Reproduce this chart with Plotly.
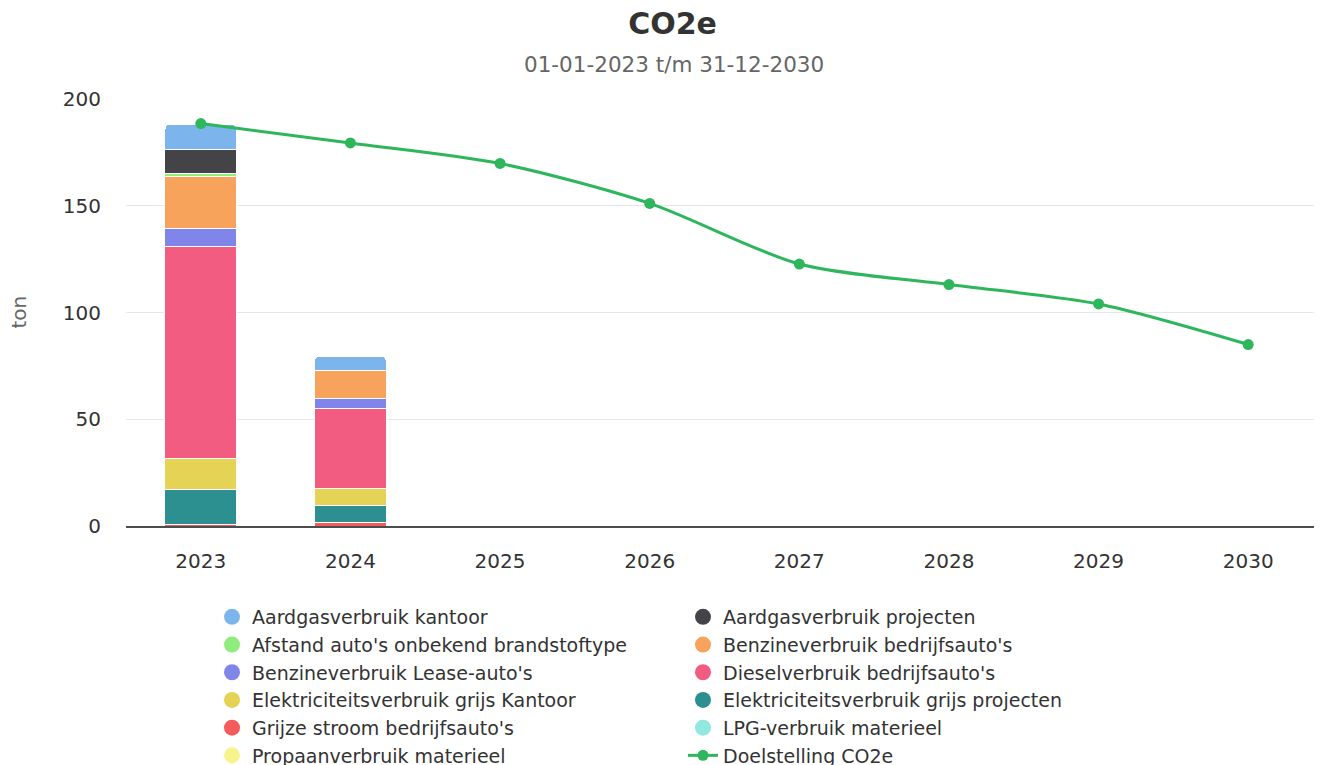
import plotly.graph_objects as go

years = ["2023", "2024", "2025", "2026", "2027", "2028", "2029", "2030"]

# legend order (top of stack first, as in the reference legend)
series_names = [
    "Aardgasverbruik kantoor",
    "Aardgasverbruik projecten",
    "Afstand auto's onbekend brandstoftype",
    "Benzineverbruik bedrijfsauto's",
    "Benzineverbruik Lease-auto's",
    "Dieselverbruik bedrijfsauto's",
    "Elektriciteitsverbruik grijs Kantoor",
    "Elektriciteitsverbruik grijs projecten",
    "Grijze stroom bedrijfsauto's",
    "LPG-verbruik materieel",
    "Propaanverbruik materieel",
]
series_colors = [
    "#7cb5ec", "#434348", "#90ed7d", "#f7a35c", "#8085e9", "#f15c80",
    "#e4d354", "#2b908f", "#f45b5b", "#91e8e1", "#f7f48c",
]

aardgas_kantoor = [12.0, 6.5, None, None, None, None, None, None]
aardgas_projecten = [11.3, None, None, None, None, None, None, None]
afstand_onbekend = [1.2, 0.3, None, None, None, None, None, None]
benzine_bedrijfsautos = [24.4, 13.2, None, None, None, None, None, None]
benzine_lease = [8.2, 4.4, None, None, None, None, None, None]
diesel_bedrijfsautos = [99.7, 37.5, None, None, None, None, None, None]
elek_grijs_kantoor = [14.3, 8.2, None, None, None, None, None, None]
elek_grijs_projecten = [16.6, 7.6, None, None, None, None, None, None]
grijze_stroom = [0.5, 1.8, None, None, None, None, None, None]
lpg_materieel = [None] * 8
propaan_materieel = [None] * 8

series_values = [
    aardgas_kantoor, aardgas_projecten, afstand_onbekend, benzine_bedrijfsautos,
    benzine_lease, diesel_bedrijfsautos, elek_grijs_kantoor, elek_grijs_projecten,
    grijze_stroom, lpg_materieel, propaan_materieel,
]

doelstelling = [188.5, 179.4, 169.8, 151.1, 122.7, 113.1, 104.0, 85.0]
line_color = "#2db65c"

W, H = 1340, 780
PL, PR, PT, PB = 118, 1315, 91, 518  # plot area in figure pixels
PW, PH = PR - PL, PB - PT

fig = go.Figure()

# bars: stacked bottom-up (reverse of legend order)
for name, color, vals in reversed(list(zip(series_names, series_colors, series_values))):
    fig.add_trace(go.Bar(
        x=years, y=vals, name=name, marker=dict(color=color, line=dict(color="white", width=1)),
        showlegend=False, hoverinfo="x+y+name",
    ))

# legend entries with round symbols
for name, color in zip(series_names, series_colors):
    fig.add_trace(go.Scatter(
        x=[None], y=[None], mode="markers", name=name,
        marker=dict(color=color, size=16, symbol="circle"), showlegend=True,
    ))

fig.add_trace(go.Scatter(
    x=years, y=doelstelling, name="Doelstelling CO2e", mode="lines+markers",
    line=dict(color=line_color, width=3, shape="spline", smoothing=0.8),
    marker=dict(color=line_color, size=11),
))

fig.update_layout(
    width=W, height=H,
    margin=dict(l=PL, r=W - PR, t=PT, b=H - PB, autoexpand=False),
    paper_bgcolor="white", plot_bgcolor="white",
    font=dict(family="DejaVu Sans", size=20, color="#333333"),
    barmode="stack", bargap=0.52, barcornerradius=5,
    title=dict(text="<b>CO2e</b>", x=664.5 / W, xref="container", xanchor="center",
               y=1 - 15 / H, yref="container", yanchor="middle",
               font=dict(size=30, color="#333333")),
    showlegend=True,
    legend=dict(orientation="h", x=(204 - PL) / PW, xanchor="left",
                y=(PB - 590) / PH, yanchor="top",
                entrywidth=426, entrywidthmode="pixels", traceorder="normal",
                font=dict(size=19, color="#333333"), itemclick=False),
    annotations=[
        dict(text="01-01-2023 t/m 31-12-2030", x=(665.5 - PL) / PW, xref="paper",
             xanchor="center", y=1 + (PT - 57) / PH, yref="paper", yanchor="middle",
             showarrow=False, font=dict(size=21.5, color="#666666")),
        dict(text="ton", x=(10 - PL) / PW, xref="paper", xanchor="center",
             y=0.5, yref="paper", yanchor="middle", textangle=-90, showarrow=False,
             font=dict(size=20, color="#666666")),
    ],
)

fig.update_xaxes(type="category", showline=True, linecolor="#4d4d4d", linewidth=1.5,
                 showgrid=False, ticks="", ticklabelstandoff=16, automargin=False,
                 tickfont=dict(size=20, color="#333333"))
fig.update_yaxes(range=[0, 200], tickvals=[0, 50, 100, 150, 200], showgrid=True,
                 gridcolor="#e6e6e6", gridwidth=1, zeroline=False, showline=False,
                 ticks="", ticklabelstandoff=24, automargin=False,
                 tickfont=dict(size=20, color="#333333"))

fig.write_html("out.html", post_script="document.body.style.overflow='hidden';")
